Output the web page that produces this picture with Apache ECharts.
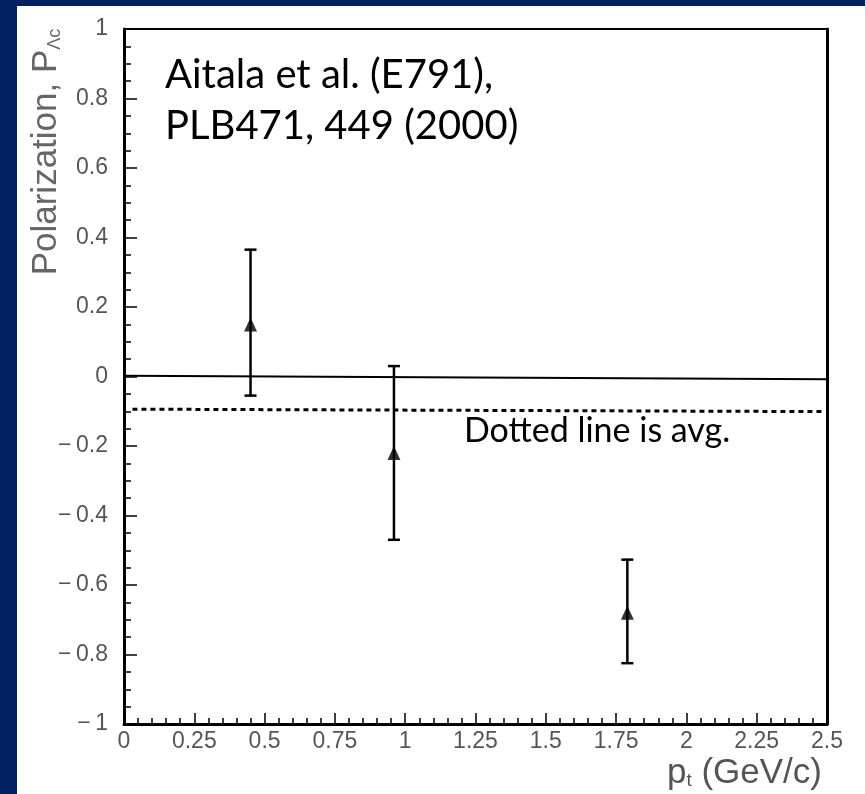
<!DOCTYPE html>
<html>
<head>
<meta charset="utf-8">
<script src="https://cdn.jsdelivr.net/npm/echarts@6/dist/echarts.min.js"></script>
<style>
html,body{margin:0;padding:0;background:#002060;width:865px;height:794px;overflow:hidden;}
#chart{position:absolute;left:17px;top:6px;width:848px;height:788px;background:#fff;}
</style>
</head>
<body>
<div id="chart"></div>
<script>
// Data
var pt = [0.45, 0.96, 1.79];
var polarization = [0.15, -0.22, -0.68];
var errLow = [-0.055, -0.47, -0.825];
var errHigh = [0.365, 0.03, -0.527];
var zeroLineX = [0, 2.5];
var zeroLineY = [0.002, -0.008];
var avgLineX = [0.03, 2.49];
var avgLineY = [-0.094, -0.101];
var xTicks = [0, 0.25, 0.5, 0.75, 1, 1.25, 1.5, 1.75, 2, 2.25, 2.5];
var yTicks = [-1, -0.8, -0.6, -0.4, -0.2, 0, 0.2, 0.4, 0.6, 0.8, 1];

var chart = echarts.init(document.getElementById('chart'));

function fmt(v) {
  var r = Math.round(v * 100) / 100;
  if (r < 0) return '\u2212\u2009' + String(-r);
  return String(r);
}

var tickFont = {color: '#555', fontFamily: 'Liberation Sans, Arial, sans-serif', fontSize: 23};

var pointData = pt.map(function (x, i) { return [x, polarization[i]]; });
var errData = pt.map(function (x, i) { return [x, errLow[i], errHigh[i]]; });

var option = {
  animation: false,
  grid: {left: 107, right: 38, top: 23, bottom: 70},
  xAxis: [{
    type: 'value', min: xTicks[0], max: xTicks[xTicks.length - 1], interval: 0.25,
    axisLine: {onZero: false, lineStyle: {color: '#000', width: 3}},
    axisTick: {inside: true, length: 11, lineStyle: {color: '#000', width: 1.5}},
    minorTick: {show: true, splitNumber: 5, length: 6, lineStyle: {color: '#000', width: 1.5}},
    splitLine: {show: false},
    axisLabel: Object.assign({margin: 6, formatter: fmt}, tickFont)
  }, {
    type: 'value', position: 'top', min: xTicks[0], max: xTicks[xTicks.length - 1],
    axisLine: {onZero: false, lineStyle: {color: '#000', width: 2}},
    axisTick: {show: false}, axisLabel: {show: false}, splitLine: {show: false}
  }],
  yAxis: [{
    type: 'value', min: yTicks[0], max: yTicks[yTicks.length - 1], interval: 0.2,
    axisLine: {onZero: false, lineStyle: {color: '#000', width: 3}},
    axisTick: {inside: true, length: 13, lineStyle: {color: '#000', width: 1.5}},
    minorTick: {show: true, splitNumber: 4, length: 7, lineStyle: {color: '#000', width: 1.5}},
    splitLine: {show: false},
    axisLabel: Object.assign({margin: 16, formatter: fmt}, tickFont)
  }, {
    type: 'value', position: 'right', min: yTicks[0], max: yTicks[yTicks.length - 1],
    axisLine: {onZero: false, lineStyle: {color: '#000', width: 3}},
    axisTick: {show: false}, axisLabel: {show: false}, splitLine: {show: false}
  }],
  graphic: [
    {type: 'text', left: 148, top: 49, style: {text: 'Aitala et al. (E791),', fontSize: 40, fontFamily: 'Lato, Open Sans, sans-serif', fill: '#000'}},
    {type: 'text', left: 148, top: 100, style: {text: 'PLB471, 449 (2000)', fontSize: 40, fontFamily: 'Lato, Open Sans, sans-serif', fill: '#000'}},
    {type: 'text', left: 447, top: 408, style: {text: 'Dotted line is avg.', fontSize: 34, fontFamily: 'Lato, Open Sans, sans-serif', fill: '#000'}},
    {type: 'text', x: 29, y: 146, rotation: Math.PI / 2, style: {
      text: 'Polarization, P{sub|\u039Bc}', align: 'center', verticalAlign: 'middle',
      fontSize: 35, fontFamily: 'Liberation Sans, Arial, sans-serif', fill: '#666',
      rich: {sub: {fontSize: 18, fill: '#666', fontFamily: 'Liberation Sans, Arial, sans-serif', padding: [18, 0, 0, 0]}}
    }},
    {type: 'text', right: 43, bottom: 3, style: {
      text: 'p{sub|t} (GeV/c)', fontSize: 35, fontFamily: 'Liberation Sans, Arial, sans-serif', fill: '#555',
      rich: {sub: {fontSize: 19, fill: '#555', fontFamily: 'Liberation Sans, Arial, sans-serif', padding: [15, 0, 0, 0]}}
    }}
  ],
  series: [
    {
      type: 'line', data: zeroLineX.map(function (x, i) { return [x, zeroLineY[i]]; }),
      symbol: 'none', lineStyle: {color: '#000', width: 2}, silent: true, z: 1
    },
    {
      type: 'line', data: avgLineX.map(function (x, i) { return [x, avgLineY[i]]; }),
      symbol: 'none', lineStyle: {color: '#000', width: 3, type: [5, 4]}, silent: true, z: 1
    },
    {
      type: 'custom', data: errData, z: 3,
      renderItem: function (params, api) {
        var x = api.value(0);
        var lo = api.coord([x, api.value(1)]);
        var hi = api.coord([x, api.value(2)]);
        var cw = 6;
        var st = {stroke: '#000', lineWidth: 2.5};
        return {type: 'group', children: [
          {type: 'line', shape: {x1: lo[0], y1: lo[1], x2: hi[0], y2: hi[1]}, style: st},
          {type: 'line', shape: {x1: lo[0] - cw, y1: lo[1], x2: lo[0] + cw, y2: lo[1]}, style: st},
          {type: 'line', shape: {x1: hi[0] - cw, y1: hi[1], x2: hi[0] + cw, y2: hi[1]}, style: st}
        ]};
      }
    },
    {
      type: 'scatter', data: pointData, symbol: 'triangle', symbolSize: [13, 14],
      itemStyle: {color: '#000'}, z: 4
    }
  ]
};
chart.setOption(option);
</script>
</body>
</html>
